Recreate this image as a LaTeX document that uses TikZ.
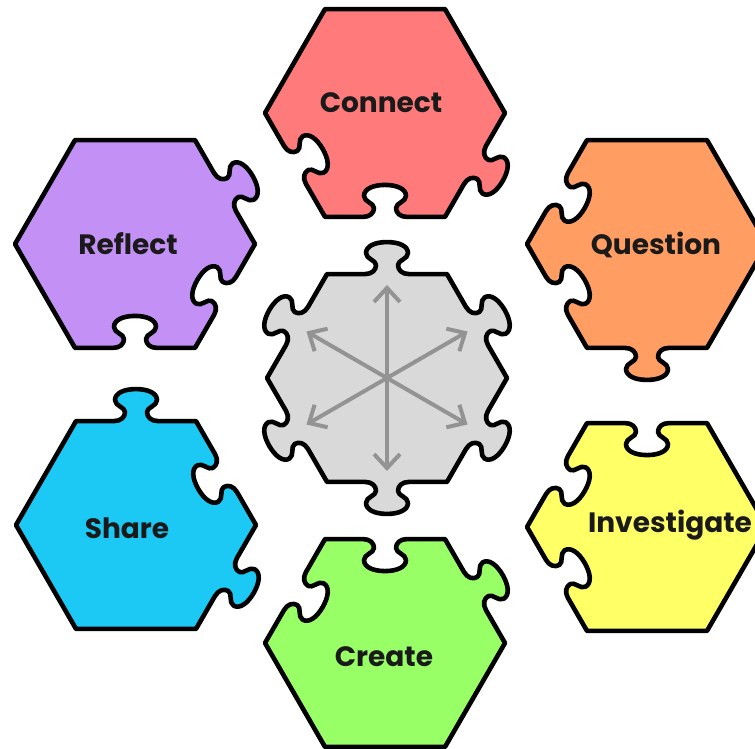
\documentclass[tikz,border=0pt]{standalone}
\usepackage{fontspec}
\setmainfont{Poppins}
\usetikzlibrary{arrows.meta}
\definecolor{cconnect}{HTML}{FF7B7B}
\definecolor{cquestion}{HTML}{FF9D63}
\definecolor{cinvest}{HTML}{FFFF66}
\definecolor{ccreate}{HTML}{99FF66}
\definecolor{cshare}{HTML}{1CC8F4}
\definecolor{creflect}{HTML}{C390F5}
\definecolor{ccenter}{HTML}{D9D9D9}
\definecolor{carrow}{HTML}{939393}
\definecolor{ctext}{HTML}{1A1A1A}
\newcommand\hexA{103.92}
\newcommand\hexH{60}
% one edge with a knob: #1 = direction of the outward normal, #2 = 1 tab, -1 blank
\newcommand\pedge[2]{%
 -- ([rotate=#1,xshift=\hexA,xscale=#2]0,-22)
 .. controls ([rotate=#1,xshift=\hexA,xscale=#2]0,-15) and ([rotate=#1,xshift=\hexA,xscale=#2]4,-11) .. ([rotate=#1,xshift=\hexA,xscale=#2]9,-11)
 .. controls ([rotate=#1,xshift=\hexA,xscale=#2]14,-11) and ([rotate=#1,xshift=\hexA,xscale=#2]15,-21) .. ([rotate=#1,xshift=\hexA,xscale=#2]21,-21)
 .. controls ([rotate=#1,xshift=\hexA,xscale=#2]28,-21) and ([rotate=#1,xshift=\hexA,xscale=#2]32,-12) .. ([rotate=#1,xshift=\hexA,xscale=#2]32,0)
 .. controls ([rotate=#1,xshift=\hexA,xscale=#2]32,12) and ([rotate=#1,xshift=\hexA,xscale=#2]28,21) .. ([rotate=#1,xshift=\hexA,xscale=#2]21,21)
 .. controls ([rotate=#1,xshift=\hexA,xscale=#2]15,21) and ([rotate=#1,xshift=\hexA,xscale=#2]14,11) .. ([rotate=#1,xshift=\hexA,xscale=#2]9,11)
 .. controls ([rotate=#1,xshift=\hexA,xscale=#2]4,11) and ([rotate=#1,xshift=\hexA,xscale=#2]0,15) .. ([rotate=#1,xshift=\hexA,xscale=#2]0,22)
 -- ([rotate=#1]\hexA,\hexH)}
% a plain edge
\newcommand\pplain[1]{ -- ([rotate=#1]\hexA,\hexH)}
\begin{document}
\begin{tikzpicture}[x=1pt,y=1pt,
  piece/.style={draw=black, line width=4.6pt, line join=round},
  lbl/.style={font=\bfseries\fontsize{28}{30}\selectfont, text=ctext, inner sep=0pt},
  arr/.style={draw=carrow, line width=4pt, {Straight Barb[length=14pt,width=26pt]}-{Straight Barb[length=14pt,width=26pt]}}]
\useasboundingbox (0,0) rectangle (755,748);
% pieces (edges: upper-right, top, upper-left, lower-left, bottom, lower-right)
\filldraw[piece, fill=cconnect, shift={(385,635)}] ([rotate=30]\hexA,-\hexH)
  \pplain{30} \pplain{90} \pplain{150} \pedge{210}{-1} \pedge{270}{-1} \pedge{330}{1} -- cycle;
\filldraw[piece, fill=cquestion, shift={(647,504)}] ([rotate=30]\hexA,-\hexH)
  \pplain{30} \pplain{90} \pedge{150}{-1} \pedge{210}{-1} \pedge{270}{1} \pplain{330} -- cycle;
\filldraw[piece, fill=cinvest, shift={(647,221)}] ([rotate=30]\hexA,-\hexH)
  \pplain{30} \pedge{90}{-1} \pedge{150}{-1} \pedge{210}{-1} \pplain{270} \pplain{330} -- cycle;
\filldraw[piece, fill=ccreate, shift={(385,105)}] ([rotate=30]\hexA,-\hexH)
  \pedge{30}{1} \pedge{90}{-1} \pedge{150}{-1} \pplain{210} \pplain{270} \pplain{330} -- cycle;
\filldraw[piece, fill=cshare, shift={(136,223)}] ([rotate=30]\hexA,-\hexH)
  \pedge{30}{-1} \pedge{90}{1} \pplain{150} \pplain{210} \pplain{270} \pedge{330}{1} -- cycle;
\filldraw[piece, fill=creflect, shift={(135,504)}] ([rotate=30]\hexA,-\hexH)
  \pedge{30}{1} \pplain{90} \pplain{150} \pplain{210} \pedge{270}{-1} \pedge{330}{-1} -- cycle;
\filldraw[piece, fill=ccenter, shift={(387,370)}] ([rotate=30]\hexA,-\hexH)
  \pedge{30}{1} \pedge{90}{1} \pedge{150}{1} \pedge{210}{1} \pedge{270}{1} \pedge{330}{1} -- cycle;
% arrows in the centre piece
\coordinate (ctr) at (387,370);
\coordinate (aN)  at ([shift={(90:93)}]ctr);
\coordinate (aS)  at ([shift={(270:93)}]ctr);
\coordinate (aNE) at ([shift={(30:93)}]ctr);
\coordinate (aSW) at ([shift={(210:93)}]ctr);
\coordinate (aNW) at ([shift={(150:93)}]ctr);
\coordinate (aSE) at ([shift={(330:93)}]ctr);
\draw[arr] (aN) -- (aS);
\draw[arr] (aNE) -- (aSW);
\draw[arr] (aNW) -- (aSE);
% labels
\node[lbl] (connect) at (381,645) {Connect};
\node[lbl] (reflect) at (128,504) {Reflect};
\node[lbl] (question) at (656,503) {Question};
\node[lbl] (investigate) at (670,223) {Investigate};
\node[lbl] (share) at (127,220) {Share};
\node[lbl] (create) at (384,91) {Create};
\end{tikzpicture}
\end{document}
